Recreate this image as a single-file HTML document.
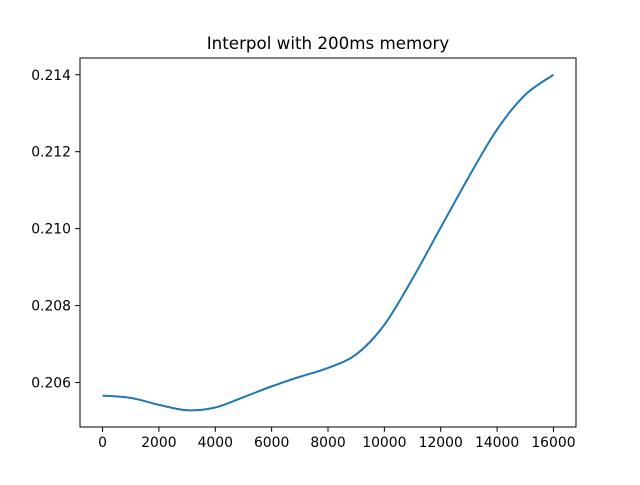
<!DOCTYPE html>
<html><head><meta charset="utf-8"><style>
body{margin:0;background:#fff;font-family:"Liberation Sans","DejaVu Sans",sans-serif}
text{font-family:"DejaVu Sans","Liberation Sans",sans-serif;font-size:13.9px;fill:#000}
</style></head><body>
<svg id="chart" width="640" height="480">
<rect width="640" height="480" fill="#fff"/>
<text x="328" y="49" text-anchor="middle" style="font-size:16.7px">Interpol with 200ms memory</text>
<g id="ticks"></g>
<path id="line" fill="none" stroke="#1f77b4" stroke-width="2"/>
<rect x="80" y="58" width="496" height="369" fill="none" stroke="#000" stroke-width="1"/>
</svg>
<script>
const xValues=[0,1000,2000,3000,4000,5000,6000,7000,8000,9000,10000,11000,12000,13000,14000,15000,16000];
const yValues=[0.20566,0.20560,0.20542,0.20528,0.20535,0.20562,0.20590,0.20615,0.20638,0.20673,0.20750,0.20870,0.21003,0.21135,0.21258,0.21348,0.21400];
const xTicks=[0,2000,4000,6000,8000,10000,12000,14000,16000];
const yTicks=[0.206,0.208,0.210,0.212,0.214];
const L=80,R=576,T=58,B=427;
const xmin=Math.min(...xValues),xmax=Math.max(...xValues),xr=xmax-xmin;
const ymin=Math.min(...yValues),ymax=Math.max(...yValues),yr=ymax-ymin;
const x0=xmin-0.05*xr,x1=xmax+0.05*xr,y0=ymin-0.05*yr,y1=ymax+0.05*yr;
const sx=v=>L+(v-x0)/(x1-x0)*(R-L);
const sy=v=>B-(v-y0)/(y1-y0)*(B-T);
const ns="http://www.w3.org/2000/svg";
const g=document.getElementById('ticks');
function mk(tag,attrs){const e=document.createElementNS(ns,tag);for(const k in attrs)e.setAttribute(k,attrs[k]);return e;}
xTicks.forEach(v=>{
 const x=sx(v);
 const l=mk('line',{x1:x,x2:x,y1:B,y2:B+4.9,stroke:'#000','stroke-width':1});
 
 
 g.appendChild(l);
 const t=mk('text',{x:x,y:B+20,'text-anchor':'middle'});t.textContent=v;
 
 
 g.appendChild(t);
});
yTicks.forEach(v=>{
 const y=sy(v);
 const l=mk('line',{x1:L-4.9,x2:L,y1:y,y2:y,stroke:'#000','stroke-width':1});
 
 
 g.appendChild(l);
 const t=mk('text',{x:L-9,y:y+5,'text-anchor':'end'});t.textContent=v.toFixed(3);
 
 
 g.appendChild(t);
});
const P=xValues.map((v,i)=>[sx(v),sy(yValues[i])]);
let d='M'+P[0][0]+','+P[0][1];
for(let i=0;i<P.length-1;i++){
 const p0=P[Math.max(i-1,0)],p1=P[i],p2=P[i+1],p3=P[Math.min(i+2,P.length-1)];
 const c1=[p1[0]+(p2[0]-p0[0])/6,p1[1]+(p2[1]-p0[1])/6];
 const c2=[p2[0]-(p3[0]-p1[0])/6,p2[1]-(p3[1]-p1[1])/6];
 d+=' C'+c1+' '+c2+' '+p2;
}
document.getElementById('line').setAttribute('d',d);
</script>
</body></html>
